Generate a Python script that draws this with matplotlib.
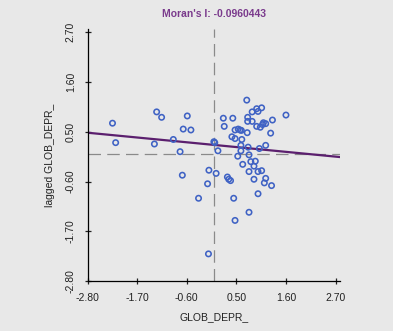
import numpy as np
import matplotlib
matplotlib.use('Agg')
import matplotlib.pyplot as plt

plt.rcParams['font.family'] = ['Liberation Sans', 'DejaVu Sans']

# GLOB_DEPR_ (x) vs lagged GLOB_DEPR_ (y)
glob_depr = [-2.25, -2.18, -1.27, -1.16, -1.32, -0.90, -0.59, -0.68, -0.51, -0.75,
             -0.70, -0.34, -0.11, -0.14, -0.12, 0.00, 0.02, 0.05, 0.09, 0.21,
             0.23, 0.42, 0.40, 0.47, 0.47, 0.54, 0.58, 0.61, 0.62, 0.60,
             0.60, 0.53, 0.64, 0.30, 0.33, 0.37, 0.44, 0.47, 0.78, 0.73,
             0.75, 0.75, 0.85, 0.85, 0.95, 0.98, 1.06, 0.95, 1.03, 1.08,
             1.10, 1.15, 1.30, 1.60, 0.74, 1.26, 0.76, 1.01, 1.15, 0.78,
             0.82, 0.92, 0.89, 0.78, 0.98, 1.06, 0.89, 1.15, 1.12, 1.28,
             0.98]
lagged = [0.69, 0.26, 0.94, 0.82, 0.23, 0.33, 0.85, 0.56, 0.54, 0.06,
          -0.46, -0.97, -0.35, -0.65, -2.20, 0.28, 0.26, -0.42, 0.08, 0.80,
          0.62, 0.80, 0.39, 0.35, 0.54, 0.56, 0.54, 0.53, 0.33, 0.20,
          0.08, -0.04, -0.22, -0.50, -0.55, -0.58, -0.97, -1.46, -1.28, 1.20,
          0.82, 0.73, 0.73, 0.94, 1.01, 0.95, 1.03, 0.62, 0.60, 0.66,
          0.70, 0.68, 0.76, 0.87, 0.48, 0.47, 0.16, 0.13, 0.20, -0.01,
          -0.16, -0.15, -0.26, -0.38, -0.38, -0.36, -0.55, -0.53, -0.63, -0.69,
          -0.87]

morans_i = -0.0960443
intercept = 0.21
ticks = [-2.80, -1.70, -0.60, 0.50, 1.60, 2.70]

bg = '#e8e8e8'
fig = plt.figure(figsize=(3.93, 3.31), dpi=100, facecolor=bg)
ax = fig.add_axes([0.2232, 0.151, 0.642, 0.761])
ax.set_facecolor(bg)

xlim = (-2.80, 2.80)
ylim = (-2.80, 2.77)
ax.set_xlim(xlim)
ax.set_ylim(ylim)

# quadrant lines through the origin
ax.axvline(0, color='#8a8a8a', lw=0.9, dashes=(10, 5), zorder=1)
ax.axhline(0, color='#8a8a8a', lw=0.9, dashes=(10, 5), zorder=1)

# regression line with slope = Moran's I
xs = np.array(xlim)
ax.plot(xs, intercept + morans_i * xs, color='#5b1f6e', lw=1.6, zorder=2)

ax.scatter(glob_depr, lagged, s=15, facecolors='none', edgecolors='#3f62c4',
           linewidths=1.15, zorder=3)

for s in ['top', 'right']:
    ax.spines[s].set_visible(False)
for s in ['left', 'bottom']:
    ax.spines[s].set_color('black')
    ax.spines[s].set_linewidth(0.9)

ax.set_xticks(ticks)
ax.set_yticks(ticks)
ax.set_xticklabels(['%.2f' % t for t in ticks])
ax.set_yticklabels(['%.2f' % t for t in ticks], rotation=90, va='center')
ax.tick_params(direction='inout', length=5, width=0.9, labelsize=7.5,
               colors='#222222', pad=6)

ax.set_xlabel('GLOB_DEPR_', fontsize=7.5, color='#222222', labelpad=7)
ax.set_ylabel('lagged GLOB_DEPR_', fontsize=7.5, color='#222222', labelpad=8)
ax.set_title("Moran's I: -0.0960443", fontsize=7.5, color='#7a3a8c',
             fontweight='bold', pad=9)

fig.savefig('out.png', dpi=100, facecolor=bg)
